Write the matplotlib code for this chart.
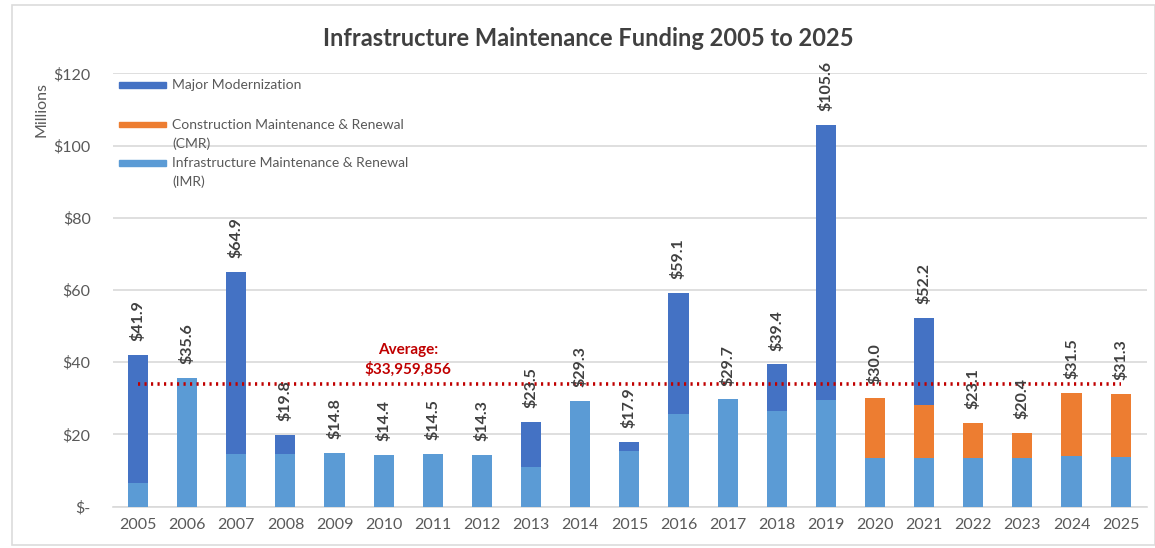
import numpy as np
import matplotlib.pyplot as plt
from matplotlib.patches import Rectangle

plt.rcParams['font.family'] = ['Lato', 'DejaVu Sans']

# funding per year, millions of dollars
years = [str(y) for y in range(2005, 2026)]
imr = [6.6, 35.6, 14.6, 14.6, 14.8, 14.4, 14.5, 14.3, 11.1, 29.3, 15.5,
       25.6, 29.7, 26.5, 29.6, 13.4, 13.4, 13.4, 13.4, 13.9, 13.7]
cmr = [0, 0, 0, 0, 0, 0, 0, 0, 0, 0, 0,
       0, 0, 0, 0, 16.6, 14.8, 9.7, 7.0, 17.6, 17.6]
major = [35.3, 0, 50.3, 5.2, 0, 0, 0, 0, 12.4, 0, 2.4,
         33.5, 0, 12.9, 76.0, 0, 24.0, 0, 0, 0, 0]
totals = [41.9, 35.6, 64.9, 19.8, 14.8, 14.4, 14.5, 14.3, 23.5, 29.3, 17.9,
          59.1, 29.7, 39.4, 105.6, 30.0, 52.2, 23.1, 20.4, 31.5, 31.3]
average = 33959856

yticks = [0, 20, 40, 60, 80, 100, 120]
ytick_labels = ["$-", "$20", "$40", "$60", "$80", "$100", "$120"]

c_imr = "#5B9BD5"
c_cmr = "#ED7D31"
c_major = "#4472C4"
txt = "#404040"

legend_lines = [["Major Modernization"],
                ["Construction Maintenance & Renewal", "(CMR)"],
                ["Infrastructure Maintenance & Renewal", "(IMR)"]]
legend_colors = [c_major, c_cmr, c_imr]

fig = plt.figure(figsize=(11.55, 5.48), dpi=100)
ax = fig.add_axes([0.0978, 0.0754, 0.895, 0.7908])

# light frame around the whole chart area
fig.patches.append(Rectangle((0.010, 0.006), 0.99, 0.985, transform=fig.transFigure,
                             fill=False, edgecolor="#DCDCDC", lw=1.2))

x = np.arange(len(years))
w = 0.41
imr_a = np.array(imr)
cmr_a = np.array(cmr)
major_a = np.array(major)

ax.bar(x, major_a, w, bottom=imr_a + cmr_a, color=c_major, zorder=3)
ax.bar(x, cmr_a, w, bottom=imr_a, color=c_cmr, zorder=3)
ax.bar(x, imr_a, w, color=c_imr, zorder=3)

for xi, t in zip(x, totals):
    ax.annotate(f"${t:.1f}", (xi, t), xytext=(0, 10), textcoords="offset points",
                rotation=90, ha="center", va="bottom", fontsize=11.5, fontweight="bold",
                color=txt, zorder=5)

avg_m = average / 1e6
ax.plot([0, len(years) - 1], [avg_m, avg_m], color="#C00000", lw=2.6,
        linestyle=(0, (0.6, 1.2)), zorder=4)
ax.text(5.5, avg_m + 2.0, f"Average:\n${average:,}", ha="center", va="bottom",
        color="#C00000", fontsize=11, fontweight="bold", linespacing=1.4, zorder=5)

ax.set_xlim(-0.51, len(years) - 0.47)
ax.set_ylim(0, 120)
ax.set_xticks(x)
ax.set_xticklabels(years, fontsize=11.5, color="#595959")
ax.set_yticks(yticks)
ax.set_yticklabels(ytick_labels, fontsize=11.5, color="#595959")
ax.tick_params(axis="both", length=0, pad=8)
ax.tick_params(axis="y", pad=16)
ax.grid(axis="y", color="#D9D9D9", lw=1.2, zorder=0)
for s in ["top", "right", "left"]:
    ax.spines[s].set_visible(False)
ax.spines["bottom"].set_color("#D9D9D9")
ax.spines["bottom"].set_linewidth(1.2)

fig.text(0.509, 0.93, "Infrastructure Maintenance Funding 2005 to 2025", ha="center", va="center",
         fontsize=17, fontweight="bold", color=txt)
fig.text(0.036, 0.80, "Millions", rotation=90, ha="center", va="center", fontsize=11.5, color="#595959")

# legend block in the upper left, handle level with the first text line
row_y = [0.973, 0.881, 0.793]
line_step = 0.044
for lines, col, y0 in zip(legend_lines, legend_colors, row_y):
    ax.add_patch(Rectangle((0.006, y0 - 0.006), 0.0455, 0.012, transform=ax.transAxes,
                           color=col, clip_on=False, zorder=6))
    for k, s in enumerate(lines):
        ax.text(0.057, y0 - k * line_step, s, transform=ax.transAxes, ha="left", va="center",
                fontsize=10, color="#595959", zorder=6)

fig.savefig("out.png", dpi=100, facecolor="white")
